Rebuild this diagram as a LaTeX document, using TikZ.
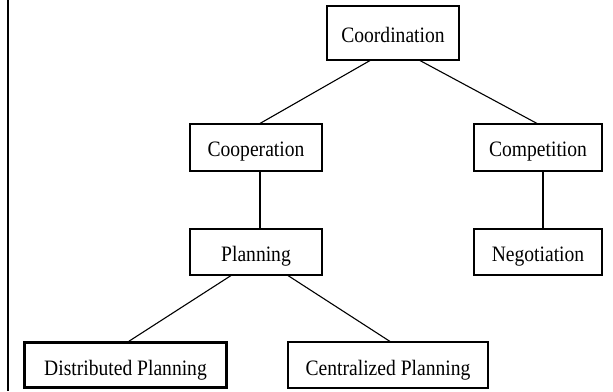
\documentclass[tikz,border=0pt]{standalone}
\usepackage{fontspec}
\setmainfont{Liberation Serif}[FakeStretch=0.89]
\begin{document}
\begin{tikzpicture}[x=1pt,y=-1pt,
  box/.style={draw, line width=1.1pt, inner sep=0pt, anchor=center,
    text height=18.6pt, text depth=0pt,
    font=\fontsize{22}{25}\selectfont},
  thickbox/.style={box, line width=2.6pt},
  link/.style={line width=1.1pt}]
\useasboundingbox (0,0) rectangle (613,391);
\draw[line width=2.6pt] (8,0) -- (8,391);
\node[box, minimum width=132pt, minimum height=54pt] (coord) at (393,33) {Coordination};
\node[box, minimum width=132pt, minimum height=47pt] (coop) at (256,147.5) {Cooperation};
\node[box, minimum width=128pt, minimum height=47pt] (comp) at (538,147.5) {Competition};
\node[box, minimum width=132pt, minimum height=46pt] (plan) at (256,252) {Planning};
\node[box, minimum width=128pt, minimum height=46pt] (neg) at (538,252) {Negotiation};
\node[thickbox, minimum width=202pt, minimum height=45pt, text height=21pt] (dist) at (125.5,365) {Distributed Planning};
\node[box, minimum width=200pt, minimum height=46pt, text height=21pt] (cent) at (388,365) {Centralized Planning};
\draw[link] ([xshift=-23pt]coord.south) -- ([xshift=4pt]coop.north);
\draw[link] ([xshift=27pt]coord.south) -- ([xshift=-1pt]comp.north);
\draw[link] ([xshift=4pt]coop.south) -- ([xshift=4pt]plan.north);
\draw[link] ([xshift=5pt]comp.south) -- ([xshift=5pt]neg.north);
\draw[link] ([xshift=-25pt]plan.south) -- ([xshift=3.5pt]dist.north);
\draw[link] ([xshift=32pt]plan.south) -- ([xshift=2pt]cent.north);
\end{tikzpicture}
\end{document}
